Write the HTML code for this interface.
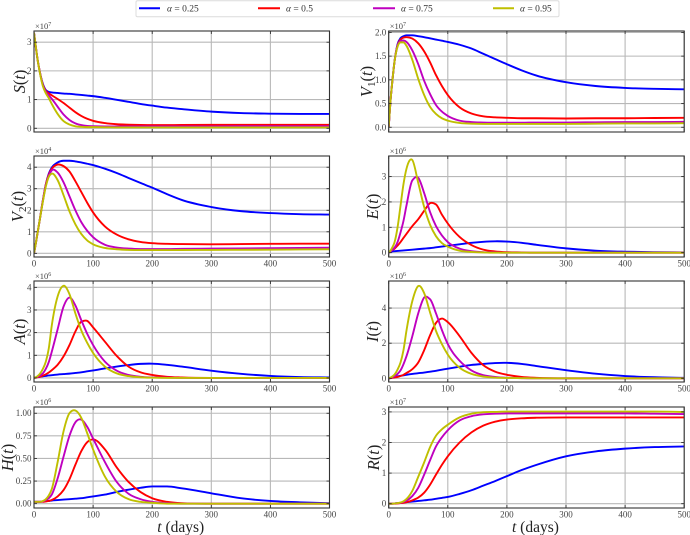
<!DOCTYPE html>
<html>
<head>
<meta charset="utf-8">
<style>
html,body{margin:0;padding:0;background:#fff;width:690px;height:535px;overflow:hidden}
svg{display:block;font-family:"Liberation Serif",serif}
</style>
</head>
<body>
<svg id="chart" width="690" height="535" viewBox="0 0 690 535" xmlns="http://www.w3.org/2000/svg">
  <g>
    <rect x="136" y="0.8" width="423" height="16" rx="1.5" fill="#fff" stroke="#dcdcdc" stroke-width="1"/>
    <line x1="139" x2="160" y1="8.3" y2="8.3" stroke="#0000ff" stroke-width="2"/>
    <text x="167" y="11.5" font-size="9.5" fill="#333"><tspan font-style="italic">α</tspan> = 0.25</text>
    <line x1="258" x2="280" y1="8.3" y2="8.3" stroke="#ff0000" stroke-width="2"/>
    <text x="286" y="11.5" font-size="9.5" fill="#333"><tspan font-style="italic">α</tspan> = 0.5</text>
    <line x1="373" x2="395" y1="8.3" y2="8.3" stroke="#bf00bf" stroke-width="2"/>
    <text x="401" y="11.5" font-size="9.5" fill="#333"><tspan font-style="italic">α</tspan> = 0.75</text>
    <line x1="493" x2="514" y1="8.3" y2="8.3" stroke="#bfbf00" stroke-width="2"/>
    <text x="520" y="11.5" font-size="9.5" fill="#333"><tspan font-style="italic">α</tspan> = 0.95</text>
  </g>
</svg>
<script>
const tDays = [0,3,6,10,15,20,25,30,40,50,60,70,80,90,100,120,140,160,180,200,225,250,300,350,400,450,500];
const xTicks = [0,100,200,300,400,500];

const S_a25 = [3.33,2.85,2.4,1.95,1.55,1.33,1.27,1.25,1.23,1.21,1.2,1.18,1.16,1.14,1.12,1.06,.99,.92,.85,.79,.72,.67,.58,.53,.51,.5,.5];
const S_a50 = [3.33,2.85,2.4,1.95,1.52,1.3,1.22,1.15,1.02,.88,.72,.56,.43,.33,.26,.18,.14,.125,.115,.11,.11,.115,.12,.12,.12,.12,.12];
const S_a75 = [3.33,2.85,2.4,1.95,1.5,1.27,1.15,1.03,.75,.48,.29,.17,.11,.08,.07,.065,.065,.065,.065,.065,.065,.065,.065,.07,.07,.07,.07];
const S_a95 = [3.33,2.85,2.4,1.93,1.47,1.22,1.05,.85,.5,.25,.13,.07,.05,.04,.04,.035,.03,.03,.03,.03,.03,.03,.03,.03,.03,.03,.03];

const V1_a25 = [0,.55,.95,1.4,1.75,1.88,1.92,1.94,1.94,1.92,1.9,1.875,1.85,1.825,1.8,1.74,1.66,1.55,1.44,1.33,1.2,1.09,.95,.87,.83,.81,.8];
const V1_a50 = [0,.55,.95,1.4,1.73,1.85,1.89,1.9,1.87,1.77,1.6,1.37,1.1,.87,.68,.42,.29,.23,.21,.2,.19,.19,.185,.19,.19,.195,.2];
const V1_a75 = [0,.55,.95,1.4,1.72,1.82,1.83,1.8,1.62,1.33,.98,.7,.47,.33,.24,.14,.11,.1,.095,.095,.095,.1,.1,.105,.11,.11,.115];
const V1_a95 = [0,.55,.95,1.4,1.7,1.79,1.79,1.72,1.42,1.02,.68,.43,.28,.19,.14,.09,.075,.07,.07,.07,.07,.07,.07,.075,.08,.08,.085];

const V2_a25 = [0,.45,.95,1.6,2.45,3.2,3.7,3.98,4.22,4.3,4.3,4.27,4.22,4.16,4.1,3.93,3.73,3.5,3.27,3.05,2.75,2.48,2.15,1.96,1.87,1.82,1.8];
const V2_a50 = [0,.45,.95,1.6,2.45,3.2,3.65,3.92,4.12,4.05,3.8,3.35,2.85,2.35,1.9,1.25,.87,.65,.53,.47,.44,.43,.42,.43,.44,.45,.45];
const V2_a75 = [0,.45,.95,1.6,2.45,3.15,3.6,3.85,3.75,3.3,2.65,2,1.45,1.05,.75,.4,.27,.22,.2,.2,.2,.21,.22,.23,.24,.25,.26];
const V2_a95 = [0,.45,.95,1.6,2.4,3.1,3.55,3.7,3.4,2.7,1.95,1.35,.9,.6,.42,.25,.19,.16,.15,.15,.15,.155,.16,.165,.17,.18,.19];

const E_a25 = [0,.03,.05,.06,.07,.08,.09,.1,.12,.14,.16,.18,.21,.24,.27,.33,.39,.43,.45,.44,.39,.31,.17,.08,.04,.02,.01];
const E_a50 = [0,.05,.1,.16,.28,.42,.58,.74,1.05,1.32,1.65,1.95,1.9,1.5,1.15,.62,.3,.12,.05,.02,.01,0,0,0,0,0,0];
const E_a75 = [0,.05,.11,.2,.42,.8,1.25,1.85,2.85,2.95,2.35,1.6,1.05,.68,.42,.16,.06,.02,.01,0,0,0,0,0,0,0,0];
const E_a95 = [0,.08,.2,.42,1,1.85,2.7,3.3,3.65,2.75,1.8,1.1,.65,.38,.24,.08,.03,.01,0,0,0,0,0,0,0,0,0];

const A_a25 = [0,.02,.04,.05,.07,.09,.11,.12,.15,.17,.19,.22,.25,.29,.33,.42,.5,.57,.62,.63,.58,.5,.32,.18,.09,.04,.02];
const A_a50 = [0,.01,.03,.05,.1,.16,.24,.34,.58,.95,1.45,2.05,2.48,2.52,2.23,1.6,.97,.5,.25,.13,.05,.02,0,0,0,0,0];
const A_a75 = [0,.02,.05,.1,.2,.4,.7,1.15,2.15,3.15,3.55,3.2,2.55,1.95,1.45,.72,.32,.13,.05,.02,.01,0,0,0,0,0,0];
const A_a95 = [0,.03,.08,.18,.4,.72,1.3,2.3,3.6,4.07,3.7,2.85,2.1,1.55,1.1,.5,.2,.08,.03,.01,0,0,0,0,0,0,0];

const I_a25 = [0,.02,.05,.08,.11,.14,.17,.2,.25,.29,.33,.38,.43,.49,.55,.66,.76,.82,.87,.88,.82,.7,.46,.26,.13,.06,.03];
const I_a50 = [0,.01,.03,.05,.08,.13,.2,.3,.52,.9,1.6,2.45,3.15,3.4,3.2,2.4,1.45,.75,.38,.2,.08,.03,0,0,0,0,0];
const I_a75 = [0,.03,.06,.12,.25,.45,.8,1.25,2.4,3.7,4.6,4.5,3.7,2.75,1.95,1,.45,.18,.08,.03,.01,0,0,0,0,0,0];
const I_a95 = [0,.04,.1,.22,.5,.9,1.6,2.7,4.4,5.25,4.85,3.75,2.7,1.95,1.35,.6,.25,.1,.04,.02,.01,0,0,0,0,0,0];

const H_a25 = [.02,.02,.02,.02,.025,.03,.03,.035,.04,.045,.05,.055,.06,.07,.08,.1,.13,.155,.175,.19,.19,.17,.115,.06,.03,.015,.005];
const H_a50 = [.02,.02,.02,.02,.02,.025,.03,.04,.08,.15,.27,.43,.58,.68,.71,.6,.4,.24,.13,.06,.02,.005,0,0,0,0,0];
const H_a75 = [.02,.02,.02,.02,.025,.04,.06,.1,.28,.52,.75,.9,.93,.85,.72,.46,.24,.11,.05,.02,.005,0,0,0,0,0,0];
const H_a95 = [.02,.02,.02,.02,.03,.05,.09,.16,.46,.8,1,1.03,.95,.78,.6,.3,.13,.05,.02,.01,0,0,0,0,0,0,0];

const R_a25 = [0,0,0,.01,.02,.03,.04,.05,.07,.09,.11,.13,.16,.19,.22,.32,.44,.59,.74,.9,1.1,1.27,1.55,1.71,1.8,1.85,1.87];
const R_a50 = [0,0,0,0,.01,.02,.03,.05,.11,.2,.36,.62,.95,1.27,1.55,2,2.33,2.55,2.68,2.75,2.79,2.81,2.82,2.82,2.82,2.82,2.82];
const R_a75 = [0,0,0,.01,.02,.03,.06,.1,.25,.52,.95,1.42,1.87,2.17,2.4,2.72,2.86,2.92,2.94,2.95,2.95,2.95,2.95,2.95,2.95,2.94,2.93];
const R_a95 = [0,0,0,.01,.02,.04,.08,.15,.42,.88,1.35,1.85,2.22,2.43,2.58,2.82,2.94,2.99,3,3.01,3.01,3.01,3.01,3.01,3.01,3.01,3];

const S_ticks = ['0','1','2','3'];
const V1_ticks = ['0.0','0.5','1.0','1.5','2.0'];
const V2_ticks = ['0','1','2','3','4'];
const E_ticks = ['0','1','2','3'];
const A_ticks = ['0','1','2','3','4'];
const I_ticks = ['0','2','4'];
const H_ticks = ['0.00','0.25','0.50','0.75','1.00'];
const R_ticks = ['0','1','2','3'];

const seriesColors = ['#0000ff','#ff0000','#bf00bf','#bfbf00'];
const seriesNames = ['alpha-025','alpha-05','alpha-075','alpha-095'];

const panels = [
  {id:'s', sym:'S', sub:'', x0:34, y0:31, ymin:-.13, ymax:3.39, exp:'7', ticks:S_ticks, series:[S_a25,S_a50,S_a75,S_a95], labelX:25, xLabels:false, xTitle:false},
  {id:'v1', sym:'V', sub:'1', x0:388.7, y0:31, ymin:-.1, ymax:2.03, exp:'7', ticks:V1_ticks, series:[V1_a25,V1_a50,V1_a75,V1_a95], labelX:372, xLabels:false, xTitle:false},
  {id:'v2', sym:'V', sub:'2', x0:34, y0:156, ymin:-.17, ymax:4.52, exp:'4', ticks:V2_ticks, series:[V2_a25,V2_a50,V2_a75,V2_a95], labelX:23, xLabels:true, xTitle:false},
  {id:'e', sym:'E', sub:'', x0:388.7, y0:156, ymin:-.17, ymax:3.81, exp:'6', ticks:E_ticks, series:[E_a25,E_a50,E_a75,E_a95], labelX:378, xLabels:true, xTitle:false},
  {id:'a', sym:'A', sub:'', x0:34, y0:281, ymin:-.18, ymax:4.28, exp:'6', ticks:A_ticks, series:[A_a25,A_a50,A_a75,A_a95], labelX:25, xLabels:true, xTitle:false},
  {id:'i', sym:'I', sub:'', x0:388.7, y0:281, ymin:-.21, ymax:5.54, exp:'6', ticks:I_ticks, series:[I_a25,I_a50,I_a75,I_a95], labelX:378, xLabels:true, xTitle:false},
  {id:'h', sym:'H', sub:'', x0:34, y0:407, ymin:-.048, ymax:1.069, exp:'6', ticks:H_ticks, series:[H_a25,H_a50,H_a75,H_a95], labelX:13, xLabels:true, xTitle:true},
  {id:'r', sym:'R', sub:'', x0:388.7, y0:407, ymin:-.14, ymax:3.16, exp:'7', ticks:R_ticks, series:[R_a25,R_a50,R_a75,R_a95], labelX:379, xLabels:true, xTitle:true}
];

const PW = 295.5, PH = 101;
const NS = 'http://www.w3.org/2000/svg';
const svg = document.getElementById('chart');

function mk(parent, tag, attrs, text) {
  const el = document.createElementNS(NS, tag);
  for (const k in attrs) el.setAttribute(k, attrs[k]);
  if (text !== undefined) el.textContent = text;
  parent.appendChild(el);
  return el;
}

function smoothPath(pts) {
  const n = pts.length, dx = [], sl = [], m = [];
  for (let i = 0; i < n - 1; i++) {
    dx[i] = pts[i+1][0] - pts[i][0];
    sl[i] = (pts[i+1][1] - pts[i][1]) / dx[i];
  }
  m[0] = sl[0];
  m[n-1] = sl[n-2];
  for (let i = 1; i < n - 1; i++) {
    const a = sl[i-1], b = sl[i];
    const par = (a * dx[i] + b * dx[i-1]) / (dx[i] + dx[i-1]);
    if (a === 0 || b === 0) { m[i] = 0; }
    else if (a * b < 0) { m[i] = par; }
    else {
      const lim = 3 * Math.min(Math.abs(a), Math.abs(b));
      m[i] = Math.sign(par) * Math.min(Math.abs(par), lim);
    }
  }
  let d = 'M' + pts[0][0].toFixed(2) + ' ' + pts[0][1].toFixed(2);
  for (let i = 0; i < n - 1; i++) {
    const h = dx[i] / 3;
    d += 'C' + (pts[i][0]+h).toFixed(2) + ' ' + (pts[i][1]+m[i]*h).toFixed(2) + ' ' +
         (pts[i+1][0]-h).toFixed(2) + ' ' + (pts[i+1][1]-m[i+1]*h).toFixed(2) + ' ' +
         pts[i+1][0].toFixed(2) + ' ' + pts[i+1][1].toFixed(2);
  }
  return d;
}

const defs = mk(svg, 'defs', {});
panels.forEach(function (p) {
  const xScale = function (t) { return p.x0 + (t / 500) * PW; };
  const yScale = function (v) { return p.y0 + PH - ((v - p.ymin) / (p.ymax - p.ymin)) * PH; };
  const g = mk(svg, 'g', {});
  
  

  const clip = mk(defs, 'clipPath', {id: 'clip-' + p.id});
  mk(clip, 'rect', {x: p.x0, y: p.y0, width: PW, height: PH});

  xTicks.forEach(function (t) {
    const x = xScale(t);
    const gl = mk(g, 'line', {x1: x, x2: x, y1: p.y0, y2: p.y0 + PH, stroke: '#b8b8b8', 'stroke-width': 1.1});
    
    
  });
  p.ticks.forEach(function (lab) {
    const y = yScale(parseFloat(lab));
    const gl = mk(g, 'line', {x1: p.x0, x2: p.x0 + PW, y1: y, y2: y, stroke: '#b8b8b8', 'stroke-width': 1.1});
    
    
  });

  p.series.forEach(function (vals, i) {
    const pts = vals.map(function (v, j) { return [xScale(tDays[j]), yScale(v)]; });
    const line = mk(g, 'path', {d: smoothPath(pts), fill: 'none', stroke: seriesColors[i], 'stroke-width': 1.9, 'clip-path': 'url(#clip-' + p.id + ')'});
    
    
  });

  const tl = 3;
  xTicks.forEach(function (t) {
    const x = xScale(t);
    const a = mk(g, 'line', {x1: x, x2: x, y1: p.y0 + PH, y2: p.y0 + PH - tl, stroke: '#222', 'stroke-width': 0.8});
    
    
    const b = mk(g, 'line', {x1: x, x2: x, y1: p.y0, y2: p.y0 + tl, stroke: '#222', 'stroke-width': 0.8});
    
    
    if (p.xLabels) {
      const lb = mk(g, 'text', {x: x, y: p.y0 + PH + 9.5, 'font-size': 9, 'text-anchor': 'middle', fill: '#444'}, String(t));
      
      
    }
  });
  p.ticks.forEach(function (lab) {
    const y = yScale(parseFloat(lab));
    const a = mk(g, 'line', {x1: p.x0, x2: p.x0 + tl, y1: y, y2: y, stroke: '#222', 'stroke-width': 0.8});
    
    
    const b = mk(g, 'line', {x1: p.x0 + PW, x2: p.x0 + PW - tl, y1: y, y2: y, stroke: '#222', 'stroke-width': 0.8});
    
    
    const lb = mk(g, 'text', {x: p.x0 - 2.5, y: y + 3, 'font-size': 9, 'text-anchor': 'end', fill: '#444'}, lab);
    
    
  });

  const frame = mk(g, 'rect', {x: p.x0, y: p.y0, width: PW, height: PH, fill: 'none', stroke: '#333', 'stroke-width': 1.1});
  
  

  const off = mk(g, 'text', {x: p.x0 + 1, y: p.y0 - 1.8, 'font-size': 8.5, fill: '#444'}, '×10');
  
  
  mk(off, 'tspan', {dy: -3, 'font-size': 6}, p.exp);

  const cy = p.y0 + PH / 2;
  const yl = mk(g, 'text', {transform: 'translate(' + p.labelX + ' ' + cy + ') rotate(-90)', 'font-size': 16.5, 'text-anchor': 'middle', fill: '#222'});
  
  
  mk(yl, 'tspan', {'font-style': 'italic'}, p.sym);
  if (p.sub) mk(yl, 'tspan', {dy: 3, 'font-size': 11}, p.sub);
  const open = mk(yl, 'tspan', p.sub ? {dy: -3} : {}, '(');
  open.setAttribute('fill', '#222');
  mk(yl, 'tspan', {'font-style': 'italic'}, 't');
  mk(yl, 'tspan', {}, ')');

  if (p.xTitle) {
    const xt = mk(g, 'text', {x: p.x0 + PW / 2 - 1, y: 532, 'font-size': 15.5, 'text-anchor': 'middle', fill: '#222'});
    
    
    mk(xt, 'tspan', {'font-style': 'italic'}, 't');
    mk(xt, 'tspan', {}, ' (days)');
  }
});
</script>
</body>
</html>
